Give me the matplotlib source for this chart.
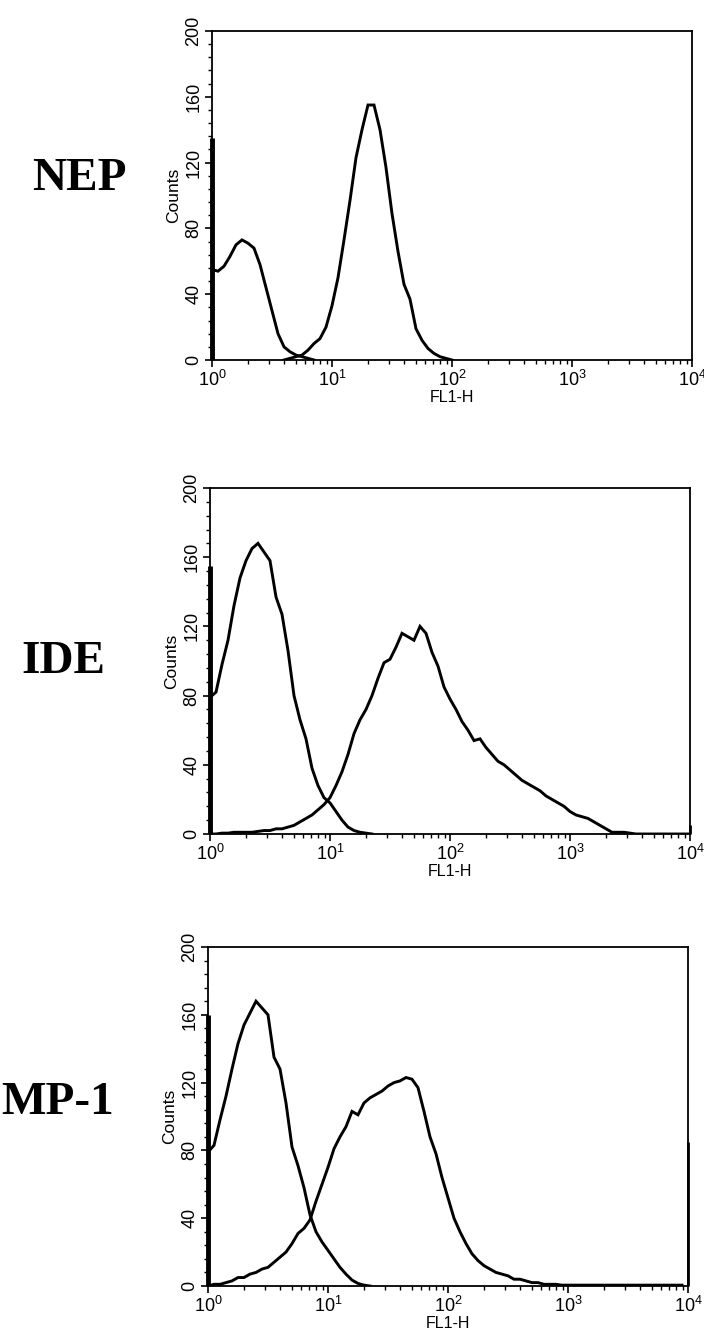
import numpy as np
import matplotlib
matplotlib.use("Agg")
import matplotlib.pyplot as plt
from matplotlib.ticker import LogLocator, LogFormatterMathtext, MultipleLocator, NullFormatter

plt.rcParams['font.family'] = ['Liberation Sans', 'DejaVu Sans']
plt.rcParams['mathtext.fontset'] = 'custom'
plt.rcParams['mathtext.rm'] = 'Liberation Sans'
plt.rcParams['mathtext.it'] = 'Liberation Sans:italic'
plt.rcParams['mathtext.bf'] = 'Liberation Sans:bold'

# ---- data: channel step 0.05 decade, each curve starts at given log10 position ----
step = 0.05
panel_names = ["NEP", "IDE", "MP-1"]

nep_ctrl_start = 0.0
nep_ctrl = [55, 54, 57, 63, 70, 73, 71, 68, 58, 44, 30, 16, 8, 5, 3, 2, 1, 0]
nep_stain_start = 0.60
nep_stain = [0, 1, 2, 3, 6, 10, 13, 20, 33, 50, 73, 97, 123, 140, 155, 155, 140,
             117, 89, 66, 46, 37, 19, 12, 7, 4, 2, 1, 0]

ide_ctrl_start = 0.0
ide_ctrl = [79, 82, 98, 112, 132, 148, 158, 165, 168, 163, 158, 137, 127, 106, 80,
            66, 55, 38, 28, 21, 18, 13, 8, 4, 2, 1, 0.5, 0]
ide_stain_start = 0.0
ide_stain = [0, 0, 0.5, 0.5, 1, 1, 1, 1, 1.5, 2, 2, 3, 3, 4, 5, 7, 9, 11, 14, 17,
             21, 28, 36, 46, 58, 66, 72, 80, 90, 99, 101, 108, 116, 114, 112, 120,
             116, 105, 97, 85, 78, 72, 65, 60, 54, 55, 50, 46, 42, 40, 37, 34, 31,
             29, 27, 25, 22, 20, 18, 16, 13, 11, 10, 9, 7, 5, 3, 1, 1, 1, 0.5, 0,
             0, 0, 0, 0, 0, 0, 0, 0, 0]

mp1_ctrl_start = 0.0
mp1_ctrl = [79, 83, 98, 112, 128, 143, 154, 161, 168, 164, 160, 135, 128, 108, 82,
            71, 58, 42, 32, 26, 21, 16, 11, 7, 3.5, 1.5, 0.5, 0]
mp1_stain_start = 0.0
mp1_stain = [0, 1, 1, 2, 3, 5, 5, 7, 8, 10, 11, 14, 17, 20, 25, 31, 34, 39, 50, 60,
             70, 81, 88, 94, 103, 101, 108, 111, 113, 115, 118, 120, 121, 123, 122,
             117, 103, 88, 78, 64, 52, 40, 32, 25, 19, 15, 12, 10, 8, 7, 6, 4, 4, 3,
             2, 2, 1, 1, 1, 0.5, 0.5, 0.5, 0.5, 0.5, 0.5, 0.5, 0.5, 0.5, 0.5, 0.5,
             0.5, 0.5, 0.5, 0.5, 0.5, 0.5, 0.5, 0.5, 0.5, 0.5]

first_channel = [135, 155, 160]   # spike in lowest channel
last_channel = [0, 5, 85]         # spike in highest channel

y_ticks = [0, 40, 80, 120, 160, 200]

panels = [
    [(nep_ctrl_start, nep_ctrl), (nep_stain_start, nep_stain)],
    [(ide_ctrl_start, ide_ctrl), (ide_stain_start, ide_stain)],
    [(mp1_ctrl_start, mp1_ctrl), (mp1_stain_start, mp1_stain)],
]

# ---- layout (pixel boxes: left, right, top, bottom) ----
W, H = 704, 1336
boxes = [(212, 692, 31, 360), (210, 690, 488, 834), (208, 688, 947, 1286)]
label_pos = [(79, 179), (63, 662), (58, 1103)]

fig = plt.figure(figsize=(W / 100, H / 100), dpi=100)

for i, (box, curves) in enumerate(zip(boxes, panels)):
    l, r, t, b = box
    ax = fig.add_axes([l / W, 1 - b / H, (r - l) / W, (b - t) / H])
    ax.set_xscale('log')
    ax.set_xlim(1, 1e4)
    ax.set_ylim(0, 200)
    for start, vals in curves:
        vals = np.asarray(vals, dtype=float)
        xs = 10 ** (start + step * np.arange(len(vals)))
        ax.plot(xs, vals, color='black', lw=2.1, solid_joinstyle='miter')
    ax.plot([1, 1], [0, first_channel[i]], color='black', lw=3.5, clip_on=False,
            solid_capstyle='butt')
    if last_channel[i] > 0:
        ax.plot([1e4, 1e4], [0, last_channel[i]], color='black', lw=2.0,
                clip_on=False, solid_capstyle='butt')

    ax.set_yticks(y_ticks)
    ax.yaxis.set_minor_locator(MultipleLocator(8))
    ax.xaxis.set_major_locator(LogLocator(base=10, numticks=10))
    ax.xaxis.set_major_formatter(LogFormatterMathtext())
    ax.xaxis.set_minor_locator(LogLocator(base=10, subs=np.arange(2, 10), numticks=20))
    ax.xaxis.set_minor_formatter(NullFormatter())
    ax.tick_params(which='major', direction='out', length=5, width=1.2,
                   labelsize=13, pad=2, top=False, right=False)
    ax.tick_params(which='minor', direction='out', length=3, width=1.0,
                   top=False, right=False)
    for lab in ax.get_yticklabels():
        lab.set_rotation(90)
        lab.set_va('center')
    for sp in ax.spines.values():
        sp.set_linewidth(1.3)
    ax.set_ylabel('Counts', fontsize=12.5, labelpad=3)
    ax.set_xlabel('FL1-H', fontsize=11.5, labelpad=0)

    lx, ly = label_pos[i]
    fig.text(lx / W, 1 - ly / H, panel_names[i], ha='center', va='center',
             fontsize=34, fontweight='bold', family=['Liberation Serif', 'DejaVu Serif'])

fig.savefig('out.png', dpi=100)
